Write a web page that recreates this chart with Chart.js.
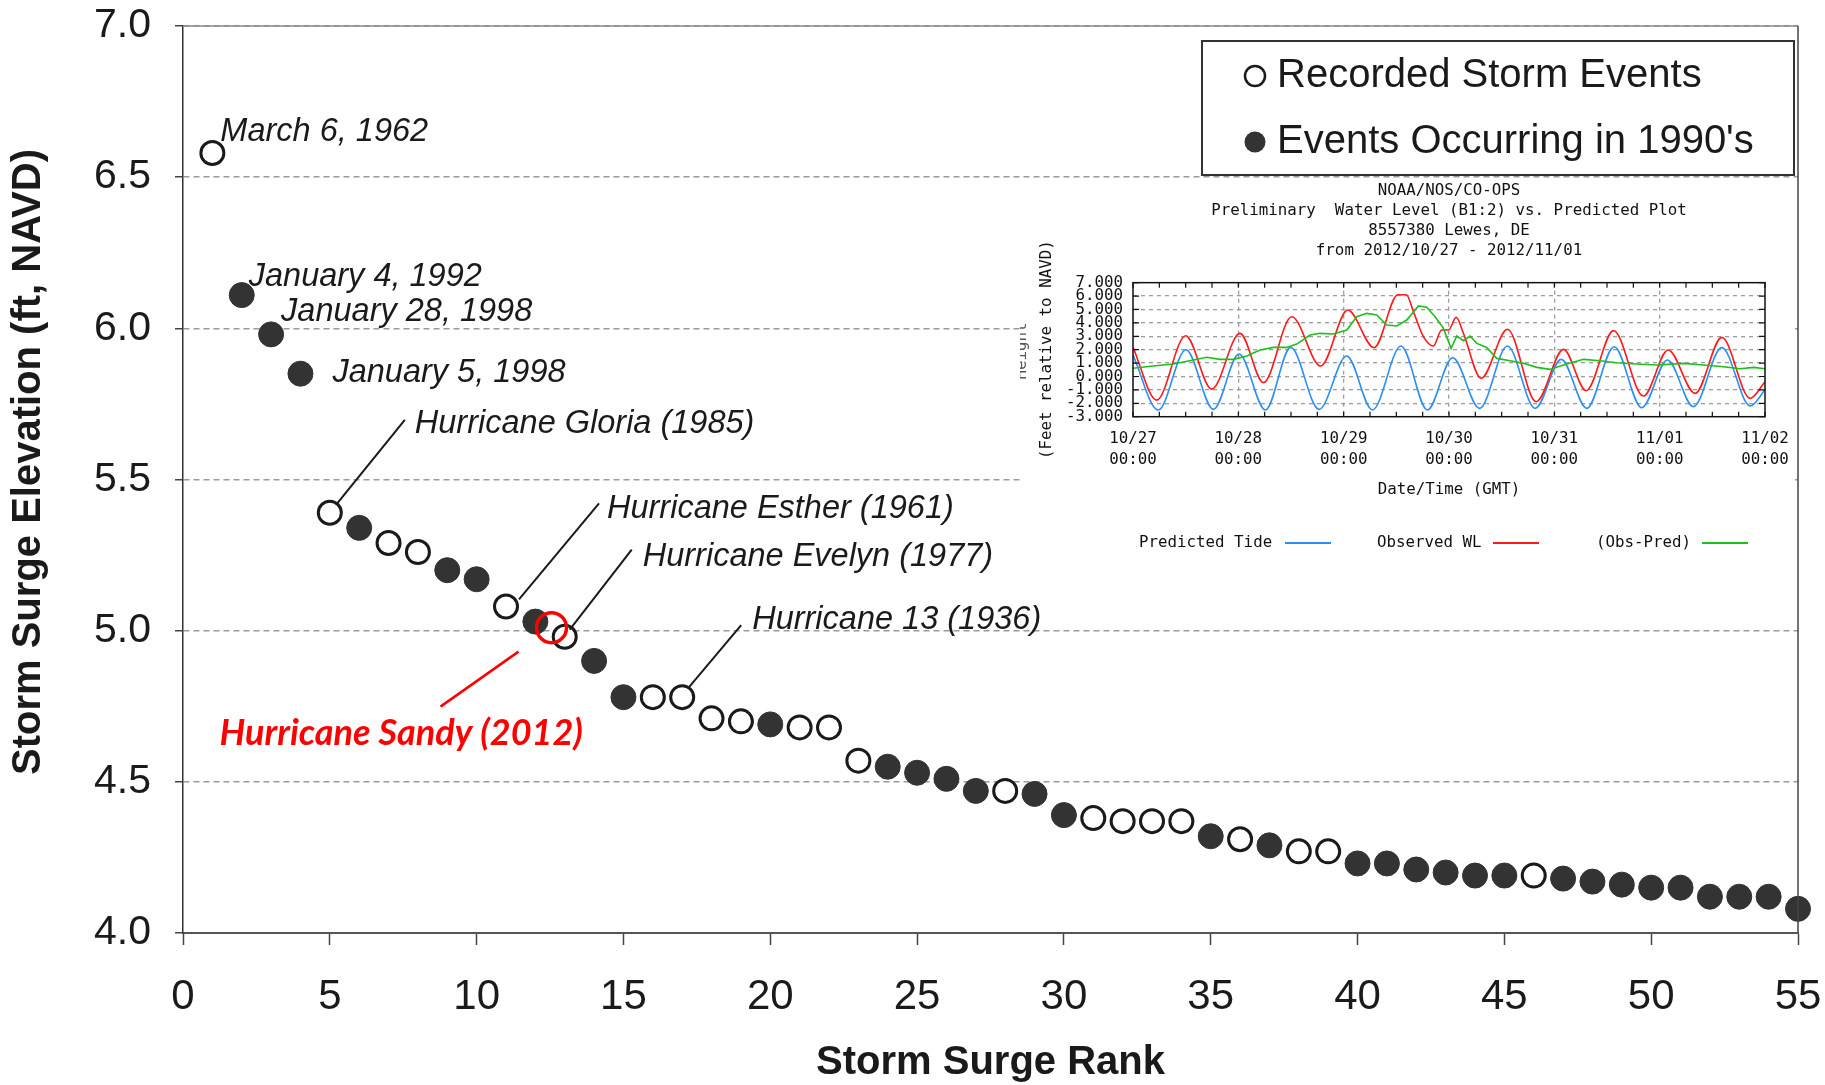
<!DOCTYPE html>
<html>
<head>
<meta charset="utf-8">
<title>Storm Surge Rank - Lewes, DE</title>
<script src="https://cdn.jsdelivr.net/npm/chart.js@4.4.0/dist/chart.umd.min.js"></script>
<style>
  body { margin: 0; background: #fff; }
  #wrap { position: relative; width: 1825px; height: 1085px; overflow: hidden; }
  #mainChart { position: absolute; left: 0; top: 0; }
  #tideChart { position: absolute; left: 1020px; top: 180px; background: #fff; }
</style>
</head>
<body>
<div id="wrap">
  <canvas id="mainChart" width="1825" height="1085"></canvas>
  <canvas id="tideChart" width="775" height="390"></canvas>
</div>
<script>
// ===============================================================================
// 1. Data
// ===============================================================================
// storm surge ranking (rank vs peak elevation, ft NAVD)
var ranks = [1, 2, 3, 4, 5, 6, 7, 8, 9, 10, 11, 12, 13, 14, 15, 16, 17, 18, 19, 20,
             21, 22, 23, 24, 25, 26, 27, 28, 29, 30, 31, 32, 33, 34, 35, 36, 37, 38, 39, 40,
             41, 42, 43, 44, 45, 46, 47, 48, 49, 50, 51, 52, 53, 54, 55];
var surgeFt = [6.58, 6.11, 5.98, 5.85, 5.39, 5.34, 5.29, 5.26, 5.20, 5.17,
               5.08, 5.03, 4.98, 4.90, 4.78, 4.78, 4.78, 4.71, 4.70, 4.69,
               4.68, 4.68, 4.57, 4.55, 4.53, 4.51, 4.47, 4.47, 4.46, 4.39,
               4.38, 4.37, 4.37, 4.37, 4.32, 4.31, 4.29, 4.27, 4.27, 4.23,
               4.23, 4.21, 4.20, 4.19, 4.19, 4.19, 4.18, 4.17, 4.16, 4.15,
               4.15, 4.12, 4.12, 4.12, 4.08];
// 1 = event occurred in the 1990's (filled dot), 0 = other recorded event
var in1990s = [0, 1, 1, 1, 0, 1, 0, 0, 1, 1, 0, 1, 0, 1, 1, 0, 0, 0, 0, 1,
               0, 0, 0, 1, 1, 1, 1, 0, 1, 1, 0, 0, 0, 0, 1, 0, 1, 0, 0, 1,
               1, 1, 1, 1, 1, 0, 1, 1, 1, 1, 1, 1, 1, 1, 1];
var seriesNames = ['Recorded Storm Events', "Events Occurring in 1990's"];

var sandyName = 'Hurricane Sandy (2012)';
var sandyRank = 12.55;
var sandyFt = 5.01;

var noteRanks = [1, 2, 3, 4, 5, 11, 13, 17];
var noteTexts = ['March 6, 1962', 'January 4, 1992', 'January 28, 1998', 'January 5, 1998',
                 'Hurricane Gloria (1985)', 'Hurricane Esther (1961)',
                 'Hurricane Evelyn (1977)', 'Hurricane 13 (1936)'];

var xTicks = [0, 5, 10, 15, 20, 25, 30, 35, 40, 45, 50, 55];
var yTicks = [4.0, 4.5, 5.0, 5.5, 6.0, 6.5, 7.0];
var yTitle = 'Storm Surge Elevation (ft, NAVD)';

// inset: NOAA water level plot (days after 10/27 00:00 GMT, feet NAVD)
var insetTitle = ['NOAA/NOS/CO-OPS',
                  'Preliminary  Water Level (B1:2) vs. Predicted Plot',
                  '8557380 Lewes, DE',
                  'from 2012/10/27 - 2012/11/01'];
var dayLabels = ['10/27', '10/28', '10/29', '10/30', '10/31', '11/01', '11/02'];
var tideNames = ['Predicted Tide', 'Observed WL', '(Obs-Pred)'];

var tideDays = [0, 0.24, 0.503, 0.763, 1.007, 1.257, 1.497, 1.766, 2.029, 2.273, 2.545, 2.795,
                3.035, 3.29, 3.555, 3.818, 4.065, 4.308, 4.568, 4.83, 5.074, 5.32, 5.59, 5.86, 6.0];
var tideFt = [1.6, -2.5, 2.0, -2.45, 1.68, -2.5, 2.17, -2.45, 1.53, -2.5, 2.27, -2.5,
              1.4, -2.38, 2.27, -2.38, 1.28, -2.38, 2.22, -2.33, 1.23, -2.25, 2.15, -2.2, -1.0];

var obsDays = [0, 0.225, 0.5, 0.747, 1.016, 1.238, 1.507, 1.782, 2.039, 2.289, 2.515, 2.595,
               2.662, 2.757, 2.852, 2.93, 2.995, 3.068, 3.137, 3.305, 3.555, 3.828, 4.087, 4.302,
               4.562, 4.846, 5.08, 5.337, 5.59, 5.859, 6.0];
var obsFt = [2.17, -1.76, 3.04, -0.94, 3.22, -0.46, 4.46, 0.78, 4.96, 2.15, 6.1, 6.1,
             4.84, 2.97, 2.27, 3.47, 3.47, 4.41, 3.22, -0.14, 3.52, -1.88, 2.02, -1.06,
             3.42, -1.46, 1.98, -1.26, 2.92, -1.63, -0.39];

var diffDays = [0, 0.19, 0.383, 0.573, 0.7, 0.826, 0.953, 1.08, 1.206, 1.333, 1.459, 1.554,
                1.681, 1.776, 1.902, 2.029, 2.124, 2.219, 2.314, 2.409, 2.504, 2.599, 2.71, 2.789,
                2.868, 2.947, 3.02, 3.074, 3.137, 3.2, 3.264, 3.358, 3.453, 3.58, 3.707, 3.834,
                3.96, 4.087, 4.277, 4.435, 4.593, 4.783, 4.973, 5.226, 5.416, 5.606, 5.764, 5.891, 6.0];
var diffFt = [0.61, 0.78, 0.93, 1.23, 1.43, 1.28, 1.28, 1.53, 1.98, 2.17, 2.17, 2.42,
              3.09, 3.22, 3.17, 3.47, 4.46, 4.71, 4.59, 3.84, 3.77, 4.21, 5.26, 5.16,
              4.46, 3.59, 2.1, 3.02, 2.67, 3.02, 2.47, 2.17, 1.35, 1.18, 0.98, 0.68,
              0.53, 0.86, 1.28, 1.18, 1.03, 0.93, 0.86, 0.98, 0.86, 0.73, 0.58, 0.68, 0.58];

// ===============================================================================
// 2. Fonts / colours / placement
// ===============================================================================
var sansFont = '"Liberation Sans", Arial, Helvetica, sans-serif';
var monoFont = '"DejaVu Sans Mono", "Liberation Mono", monospace';
var tideColors = ['#2a8ff0', '#ff1a1a', '#1cbf1c'];

Chart.defaults.font.family = sansFont;

// annotation placement, pixel offsets from the labelled dot
var noteLayout = [
  {tx: 8, ty: -21},
  {tx: 7, ty: -18},
  {tx: 10, ty: -22},
  {tx: 32, ty: -1},
  {tx: 85, ty: -89, line: [7, -9, 75, -93]},
  {tx: 101, ty: -98, line: [13, -7, 93, -103]},
  {tx: 78, ty: -80, line: [5, -7, 67, -87]},
  {tx: 70, ty: -77, line: [6, -9, 59, -72]}
];
var sandyLayout = {tx: -332, ty: 106, line: [-111, 79, -33, 24]};

// drop the automatic label overhang so the plot box sits where we ask
function noScalePadding(scale) {
  scale.paddingLeft = 0;
  scale.paddingRight = 0;
  scale.paddingTop = 0;
  scale.paddingBottom = 0;
}

// ===============================================================================
// 3. Main chart - storm surge rank
// ===============================================================================
function splitPoints(flag) {
  var pts = [];
  for (var i = 0; i < ranks.length; i++) {
    if (in1990s[i] === flag) pts.push({x: ranks[i], y: surgeFt[i]});
  }
  return pts;
}

var surgeExtras = {
  id: 'surgeExtras',
  beforeDraw: function(chart) {
    var ctx = chart.ctx;
    ctx.save();
    ctx.fillStyle = '#fff';
    ctx.fillRect(0, 0, chart.width, chart.height);
    ctx.restore();
  },
  afterDatasetsDraw: function(chart) {
    var ctx = chart.ctx;
    var xs = chart.scales.x, ys = chart.scales.y;
    ctx.save();
    ctx.textBaseline = 'middle';
    ctx.textAlign = 'left';

    // black labels for named storms
    for (var i = 0; i < noteRanks.length; i++) {
      var idx = ranks.indexOf(noteRanks[i]);
      var px = xs.getPixelForValue(ranks[idx]);
      var py = ys.getPixelForValue(surgeFt[idx]);
      var lay = noteLayout[i];
      if (lay.line) {
        ctx.strokeStyle = '#1a1a1a';
        ctx.lineWidth = 2;
        ctx.beginPath();
        ctx.moveTo(px + lay.line[0], py + lay.line[1]);
        ctx.lineTo(px + lay.line[2], py + lay.line[3]);
        ctx.stroke();
      }
      ctx.fillStyle = '#1a1a1a';
      ctx.font = 'italic 32.5px ' + sansFont;
      ctx.fillText(noteTexts[i], px + lay.tx, py + lay.ty);
    }

    // red Sandy label
    var sx = xs.getPixelForValue(sandyRank);
    var sy = ys.getPixelForValue(sandyFt);
    ctx.strokeStyle = '#ff0000';
    ctx.lineWidth = 2.5;
    ctx.beginPath();
    ctx.moveTo(sx + sandyLayout.line[0], sy + sandyLayout.line[1]);
    ctx.lineTo(sx + sandyLayout.line[2], sy + sandyLayout.line[3]);
    ctx.stroke();
    ctx.fillStyle = '#ff0000';
    ctx.font = 'italic bold 36px Lato, "Open Sans", ' + sansFont;
    ctx.fillText(sandyName, sx + sandyLayout.tx, sy + sandyLayout.ty);
    ctx.restore();
  },
  afterDraw: function(chart) {
    var ctx = chart.ctx;
    var a = chart.chartArea;
    ctx.save();
    // top and right frame of the plot
    ctx.strokeStyle = '#8a8a8a';
    ctx.lineWidth = 1.5;
    ctx.beginPath();
    ctx.moveTo(a.left, a.top);
    ctx.lineTo(a.right, a.top);
    ctx.stroke();
    ctx.strokeStyle = '#444';
    ctx.beginPath();
    ctx.moveTo(a.right, a.top);
    ctx.lineTo(a.right, a.bottom);
    ctx.stroke();

    // rotated y axis title
    ctx.save();
    ctx.translate(29, 462);
    ctx.rotate(-Math.PI / 2);
    ctx.font = 'bold 40px ' + sansFont;
    ctx.fillStyle = '#1a1a1a';
    ctx.textAlign = 'center';
    ctx.textBaseline = 'middle';
    ctx.fillText(yTitle, 0, 0);
    ctx.restore();

    // legend box
    ctx.strokeStyle = '#333';
    ctx.lineWidth = 2;
    ctx.strokeRect(1202, 41, 592, 134);
    ctx.font = '40px ' + sansFont;
    ctx.textBaseline = 'middle';
    ctx.textAlign = 'left';
    var rowY = [76, 142];
    for (var i = 0; i < 2; i++) {
      var ds = chart.data.datasets[i + 1];
      ctx.beginPath();
      ctx.arc(1255, rowY[i], i === 0 ? 10 : 10.5, 0, Math.PI * 2);
      if (i === 0) {
        ctx.fillStyle = '#fff';
        ctx.fill();
        ctx.lineWidth = 2.5;
        ctx.strokeStyle = ds.borderColor;
        ctx.stroke();
      } else {
        ctx.fillStyle = ds.backgroundColor;
        ctx.fill();
      }
      ctx.fillStyle = '#1a1a1a';
      ctx.fillText(ds.label, 1277, rowY[i]);
    }
    ctx.restore();
  }
};

var mainChart = new Chart(document.getElementById('mainChart'), {
  type: 'scatter',
  data: {
    datasets: [
      {
        label: sandyName,
        data: [{x: sandyRank, y: sandyFt}],
        pointStyle: 'circle',
        pointRadius: 15,
        pointBackgroundColor: 'rgba(0,0,0,0)',
        pointBorderColor: '#ff0000',
        pointBorderWidth: 3.5,
        clip: false,
        order: 0
      },
      {
        label: seriesNames[0],
        data: splitPoints(0),
        pointRadius: 11.5,
        backgroundColor: '#fff',
        borderColor: '#1a1a1a',
        pointBorderWidth: 3,
        clip: false,
        order: 2
      },
      {
        label: seriesNames[1],
        data: splitPoints(1),
        pointRadius: 12.5,
        backgroundColor: '#333',
        borderColor: '#333',
        pointBorderWidth: 1,
        clip: false,
        order: 1
      }
    ]
  },
  options: {
    responsive: false,
    devicePixelRatio: 1,
    animation: false,
    events: [],
    layout: { padding: { left: 0, top: 26, right: 27, bottom: 0 } },
    plugins: { legend: { display: false }, tooltip: { enabled: false } },
    scales: {
      x: {
        type: 'linear',
        min: xTicks[0],
        max: xTicks[xTicks.length - 1],
        afterBuildTicks: function(scale) { scale.ticks = xTicks.map(function(v) { return {value: v}; }); },
        ticks: { font: { size: 42 }, color: '#1a1a1a', padding: 27, maxRotation: 0 },
        grid: { drawOnChartArea: false, tickLength: 12, tickColor: '#444', tickWidth: 1.5 },
        border: { color: '#555', width: 2 },
        title: {
          display: true,
          text: 'Storm Surge Rank',
          color: '#1a1a1a',
          font: { size: 40, weight: 'bold', lineHeight: 1.1 },
          padding: 0
        },
        afterFit: function(scale) { scale.height = 152; noScalePadding(scale); }
      },
      y: {
        min: yTicks[0],
        max: yTicks[yTicks.length - 1],
        afterBuildTicks: function(scale) { scale.ticks = yTicks.map(function(v) { return {value: v}; }); },
        ticks: {
          font: { size: 41 },
          color: '#1a1a1a',
          padding: 24,
          callback: function(v) { return Number(v).toFixed(1); }
        },
        grid: { color: '#9a9a9a', lineWidth: 1.5, tickLength: 8, tickColor: '#444', tickWidth: 1.5 },
        border: { color: '#333', width: 1.5, dash: [6, 4] },
        afterFit: function(scale) { scale.width = 183; noScalePadding(scale); }
      }
    }
  },
  plugins: [surgeExtras]
});

// ===============================================================================
// 4. Inset chart - NOAA water level vs predicted
// ===============================================================================
function toPoints(days, feet) {
  var pts = [];
  for (var i = 0; i < days.length; i++) pts.push({x: days[i], y: feet[i]});
  return pts;
}

var tideExtras = {
  id: 'tideExtras',
  beforeDraw: function(chart) {
    var ctx = chart.ctx;
    ctx.save();
    ctx.fillStyle = '#fff';
    ctx.fillRect(0, 0, chart.width, chart.height);
    ctx.restore();
  },
  afterDraw: function(chart) {
    var ctx = chart.ctx;
    var a = chart.chartArea;
    ctx.save();
    // frame + small inward ticks
    ctx.strokeStyle = '#111';
    ctx.lineWidth = 1.5;
    ctx.strokeRect(a.left, a.top, a.right - a.left, a.bottom - a.top);
    ctx.lineWidth = 1.2;
    ctx.beginPath();
    var xs = chart.scales.x, ys = chart.scales.y;
    for (var q = 0; q <= 24; q++) {
      var px = xs.getPixelForValue(q / 4);
      ctx.moveTo(px, a.top); ctx.lineTo(px, a.top + 5);
      ctx.moveTo(px, a.bottom); ctx.lineTo(px, a.bottom - 5);
    }
    for (var v = -3; v <= 7; v++) {
      var py = ys.getPixelForValue(v);
      ctx.moveTo(a.left, py); ctx.lineTo(a.left + 6, py);
      ctx.moveTo(a.right, py); ctx.lineTo(a.right - 6, py);
    }
    ctx.stroke();

    // half hidden "Height" label
    ctx.fillStyle = '#555';
    ctx.font = '15.8px ' + monoFont;
    ctx.translate(6, 171);
    ctx.rotate(-Math.PI / 2);
    ctx.textAlign = 'center';
    ctx.textBaseline = 'alphabetic';
    ctx.fillText('Height', 0, 0);
    ctx.restore();

    // legend: text then line sample
    ctx.save();
    ctx.font = '15.8px ' + monoFont;
    ctx.textBaseline = 'middle';
    ctx.textAlign = 'left';
    var textX = [119, 357, 576];
    var lineX = [265, 473, 682];
    for (var i = 0; i < 3; i++) {
      ctx.fillStyle = '#111';
      ctx.fillText(chart.data.datasets[i].label, textX[i], 363);
      ctx.strokeStyle = chart.data.datasets[i].borderColor;
      ctx.lineWidth = 2;
      ctx.beginPath();
      ctx.moveTo(lineX[i], 363);
      ctx.lineTo(lineX[i] + 46, 363);
      ctx.stroke();
    }
    ctx.restore();
  }
};

function insetGridColor(ctx, lo, hi) {
  var v = ctx.tick ? ctx.tick.value : lo;
  return (v > lo && v < hi) ? '#9c9c9c' : 'rgba(0,0,0,0)';
}

var tideChart = new Chart(document.getElementById('tideChart'), {
  type: 'line',
  data: {
    datasets: [
      {
        label: tideNames[0],
        data: toPoints(tideDays, tideFt),
        borderColor: tideColors[0],
        cubicInterpolationMode: 'monotone',
        order: 3
      },
      {
        label: tideNames[1],
        data: toPoints(obsDays, obsFt),
        borderColor: tideColors[1],
        cubicInterpolationMode: 'monotone',
        order: 2
      },
      {
        label: tideNames[2],
        data: toPoints(diffDays, diffFt),
        borderColor: tideColors[2],
        tension: 0,
        order: 1
      }
    ]
  },
  options: {
    responsive: false,
    devicePixelRatio: 1,
    animation: false,
    events: [],
    layout: { padding: { left: 0, top: 0, right: 30, bottom: 64 } },
    elements: { point: { radius: 0 }, line: { borderWidth: 1.6, fill: false } },
    plugins: {
      legend: { display: false },
      tooltip: { enabled: false },
      title: {
        display: true,
        fullSize: false,
        text: insetTitle,
        color: '#111',
        font: { family: monoFont, size: 15.8, weight: 'normal', lineHeight: 1.27 },
        padding: { top: 0.7, bottom: 21.7 }
      }
    },
    scales: {
      x: {
        type: 'linear',
        min: 0,
        max: 6,
        ticks: {
          stepSize: 1,
          autoSkip: false,
          maxRotation: 0,
          padding: 12,
          color: '#111',
          font: { family: monoFont, size: 15.8, lineHeight: 1.3 },
          callback: function(v) { return [dayLabels[v], '00:00']; }
        },
        grid: { color: function(c) { return insetGridColor(c, 0, 6); }, lineWidth: 1.3, drawTicks: false },
        border: { display: false, dash: [4, 4] },
        title: {
          display: true,
          text: 'Date/Time (GMT)',
          color: '#111',
          font: { family: monoFont, size: 15.8, lineHeight: 1.3 },
          padding: { top: 0, bottom: 5.7 }
        },
        afterFit: function(scale) { scale.height = 89.3; noScalePadding(scale); }
      },
      y: {
        min: -3,
        max: 7,
        ticks: {
          stepSize: 1,
          autoSkip: false,
          padding: 10,
          color: '#111',
          font: { family: monoFont, size: 15.8, lineHeight: 1 },
          callback: function(v) { return Number(v).toFixed(3); }
        },
        grid: { color: function(c) { return insetGridColor(c, -3, 7); }, lineWidth: 1.3, drawTicks: false },
        border: { display: false, dash: [4, 4] },
        title: {
          display: true,
          text: '(Feet relative to NAVD)',
          color: '#111',
          font: { family: monoFont, size: 15.8, lineHeight: 1.3 },
          padding: { top: 16.7, bottom: 0 }
        },
        afterFit: function(scale) { scale.width = 113; noScalePadding(scale); }
      }
    }
  },
  plugins: [tideExtras]
});
</script>
</body>
</html>
